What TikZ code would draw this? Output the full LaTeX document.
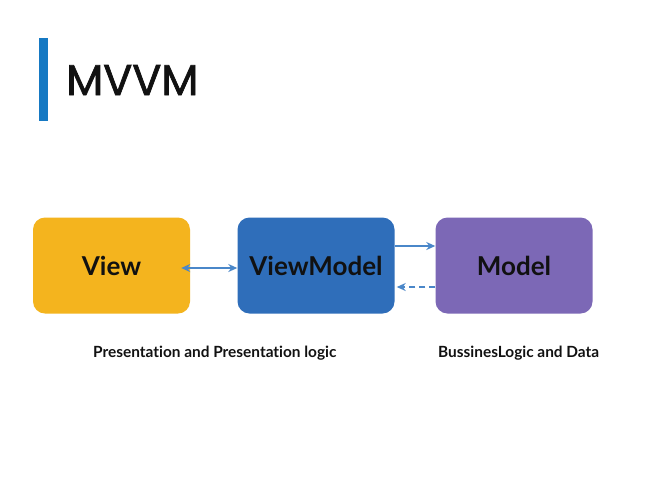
\documentclass[tikz,border=0pt]{standalone}
\usepackage{fontspec}
\setmainfont{Lato}[Ligatures={NoCommon}]
\newfontfamily\titlefont{Poppins}[FakeBold=1.6]
\usetikzlibrary{arrows.meta}
\definecolor{barblue}{HTML}{1679C3}
\definecolor{vieworange}{HTML}{F4B41E}
\definecolor{vmblue}{HTML}{2F6EBA}
\definecolor{mpurple}{HTML}{7C68B6}
\definecolor{arrowblue}{HTML}{4A87C9}
\definecolor{textdark}{HTML}{111111}
\tikzset{
  box/.style={rounded corners=12pt, minimum width=157pt, minimum height=96pt, inner sep=0pt, text=textdark, font=\fontsize{26}{30}\selectfont\bfseries},
  conn/.style={draw=arrowblue, line width=1.6pt, -{Stealth[length=9pt,width=8pt]}},
  caption/.style={text=textdark, font=\fontsize{15.4}{18}\selectfont\bfseries, anchor=base west, inner sep=0pt},
}
\begin{document}
\begin{tikzpicture}[x=1pt,y=-1pt]
\useasboundingbox[fill=white] (0,0) rectangle (650,483);
\fill[barblue] (39,38) rectangle (48,121) node[coordinate] (bar) {};
\node[anchor=base west, inner sep=0pt, text=textdark, font=\titlefont\fontsize{43}{50}\selectfont] (title) at (66,95) {MVVM};
\node[box, fill=vieworange] (view) at (111.5,265.5) {View};
\node[box, fill=vmblue] (vm) at (316,265.5) {ViewModel};
\node[box, fill=mpurple] (model) at (514,265.5) {Model};
\draw[conn, {Stealth[length=9pt,width=8pt]}-{Stealth[length=9pt,width=8pt]}] ([xshift=-9pt]view.east |- 0,268) coordinate (a1) -- (vm.west |- a1);
\draw[conn] (vm.east |- 0,246) coordinate (a2) -- (model.west |- a2);
\draw[conn, dashed, dash pattern=on 6pt off 4pt] (model.west |- 0,287) coordinate (a3) -- ([xshift=2pt]vm.east |- a3);
\node[caption] (cap1) at (93,357) {Presentation and Presentation logic};
\node[caption] (cap2) at (438,357) {BussinesLogic and Data};
\end{tikzpicture}
\end{document}
